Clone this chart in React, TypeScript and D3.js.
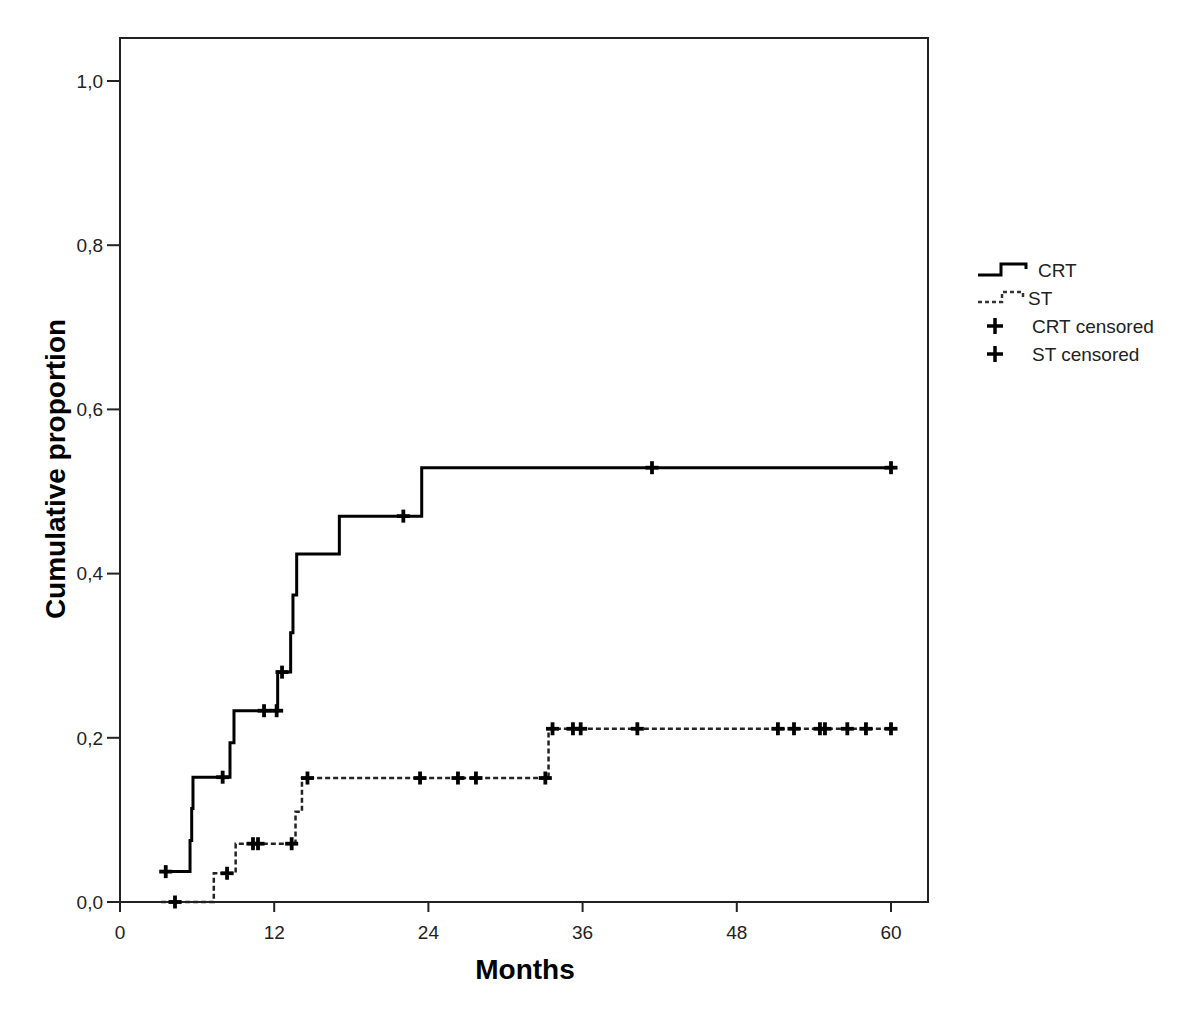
import React from "react";
import * as d3 from "d3";

// CRT: event times (months) and cumulative proportion after each event
const crtTimes = [3.2, 5.45, 5.58, 5.68, 8.56, 8.87, 12.27, 13.28, 13.46, 13.75, 17.07, 23.48];
const crtValues = [0.037, 0.075, 0.114, 0.152, 0.194, 0.233, 0.28, 0.328, 0.374, 0.424, 0.47, 0.529];
const crtCensored = [3.56, 7.99, 11.21, 12.19, 12.61, 22.05, 41.4, 60];

// ST
const stStart = 3.2;
const stTimes = [7.3, 9.0, 13.66, 14.16, 33.35];
const stValues = [0.035, 0.071, 0.11, 0.151, 0.211];
const stCensored = [4.28, 8.33, 10.35, 10.74, 13.36, 14.59, 23.35, 26.3, 27.7, 33.1, 33.66, 35.25, 35.85, 40.26, 51.2, 52.45, 54.47, 54.86, 56.6, 58.05, 60];

const xTicks = [0, 12, 24, 36, 48, 60];
const yTicks = [0, 0.2, 0.4, 0.6, 0.8, 1.0];
const legendItems = ["CRT", "ST", "CRT censored", "ST censored"];

const FONT = "Liberation Sans, Arial, sans-serif";

function stepPoints(start: number, startVal: number, times: number[], values: number[], end: number) {
  const pts: [number, number][] = [[start, startVal]];
  times.forEach((t, i) => pts.push([t, values[i]]));
  pts.push([end, values[values.length - 1]]);
  return pts;
}

function valueAt(t: number, start: number, startVal: number, times: number[], values: number[]) {
  let v = startVal;
  times.forEach((tt, i) => {
    if (tt <= t) v = values[i];
  });
  return t < start ? startVal : v;
}

export default function App() {
  const W = 1200;
  const H = 1029;
  const frame = { left: 120, top: 38, right: 928, bottom: 902 };
  const x = d3.scaleLinear().domain([0, 60]).range([120, 891]);
  const y = d3.scaleLinear().domain([0, 1]).range([902, 81]);

  const line = d3
    .line<[number, number]>()
    .x((d) => x(d[0]))
    .y((d) => y(d[1]))
    .curve(d3.curveStepAfter);

  const crtPts = stepPoints(crtTimes[0], crtValues[0], crtTimes.slice(1), crtValues.slice(1), 60);
  const stPts = stepPoints(stStart, 0, stTimes, stValues, 60);

  const plus = (cx: number, cy: number, key: string, r = 6.5, sw = 3.8) => (
    <g key={key} stroke="#000" strokeWidth={sw}>
      <line x1={cx - r} x2={cx + r} y1={cy} y2={cy} />
      <line x1={cx} x2={cx} y1={cy - r} y2={cy + r} />
    </g>
  );

  const fmt = (v: number) => v.toFixed(1).replace(".", ",");

  return (
    <svg
      width={W}
      height={H}
      style={{ position: "absolute", left: 0, top: 0, background: "#fff" }}
      fontFamily={FONT}
    >
      <rect x={0} y={0} width={W} height={H} fill="#fff" />
      {/* frame */}
      <rect
        x={frame.left}
        y={frame.top}
        width={frame.right - frame.left}
        height={frame.bottom - frame.top}
        fill="none"
        stroke="#222"
        strokeWidth={2}
      />
      {/* y ticks */}
      {yTicks.map((t) => (
        <g key={"y" + t}>
          <line x1={107} x2={frame.left} y1={y(t)} y2={y(t)} stroke="#222" strokeWidth={2} />
          <text x={103} y={y(t)} dy="0.36em" textAnchor="end" fontSize={19} fill="#222">
            {fmt(t)}
          </text>
        </g>
      ))}
      {/* x ticks */}
      {xTicks.map((t) => (
        <g key={"x" + t}>
          <line x1={x(t)} x2={x(t)} y1={frame.bottom} y2={frame.bottom + 10} stroke="#222" strokeWidth={2} />
          <text x={x(t)} y={939} textAnchor="middle" fontSize={19} fill="#222">
            {t}
          </text>
        </g>
      ))}
      {/* axis titles */}
      <text x={525} y={979} textAnchor="middle" fontSize={28} fontWeight="bold" fill="#000">
        Months
      </text>
      <text
        transform={`translate(65,469) rotate(-90)`}
        textAnchor="middle"
        fontSize={28}
        fontWeight="bold"
        fill="#000"
      >
        Cumulative proportion
      </text>

      {/* curves */}
      <path d={line(stPts) || ""} fill="none" stroke="#222" strokeWidth={2.5} strokeDasharray="5,3" />
      <path d={line(crtPts) || ""} fill="none" stroke="#000" strokeWidth={3} />

      {/* censor marks */}
      {stCensored.map((t, i) =>
        plus(x(t), y(valueAt(t, stStart, 0, stTimes, stValues)), "sc" + i)
      )}
      {crtCensored.map((t, i) =>
        plus(x(t), y(valueAt(t, crtTimes[0], crtValues[0], crtTimes, crtValues)), "cc" + i)
      )}

      {/* legend */}
      <g>
        <path d="M978,275 H1001 V264 H1026 V269" fill="none" stroke="#000" strokeWidth={3} />
        <text x={1038} y={277} fontSize={19} fill="#222">
          {legendItems[0]}
        </text>
        <path d="M978,302 H1002 V292 H1023 V297" fill="none" stroke="#333" strokeWidth={2.5} strokeDasharray="4,3" />
        <text x={1028} y={305} fontSize={19} fill="#222">
          {legendItems[1]}
        </text>
        {plus(995, 326, "lg1", 8, 3.5)}
        <text x={1032} y={333} fontSize={19} fill="#222">
          {legendItems[2]}
        </text>
        {plus(995, 354, "lg2", 8, 3.5)}
        <text x={1032} y={361} fontSize={19} fill="#222">
          {legendItems[3]}
        </text>
      </g>
    </svg>
  );
}
